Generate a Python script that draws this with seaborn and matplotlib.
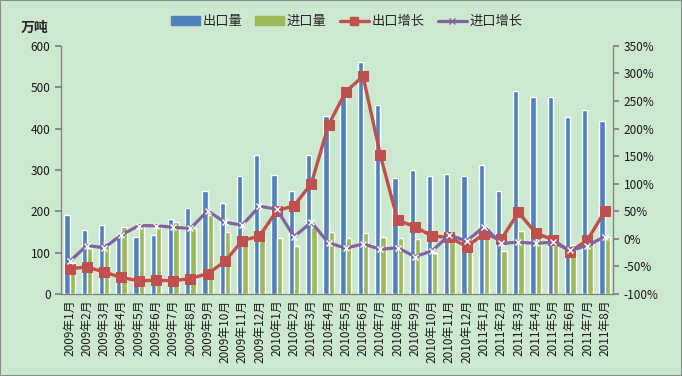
import numpy as np
import pandas as pd
import seaborn as sns
import matplotlib.pyplot as plt
from matplotlib.patches import Patch, Rectangle
from matplotlib.lines import Line2D

# months 2009-01 .. 2011-08
months = ['2009年%d月' % m for m in range(1, 13)] + \
         ['2010年%d月' % m for m in range(1, 13)] + \
         ['2011年%d月' % m for m in range(1, 9)]

# 出口量 / 进口量 (万吨)
export_vol = [191, 156, 167, 142, 137, 143, 182, 209, 248, 219, 286, 335,
              289, 250, 335, 431, 478, 562, 456, 281, 300, 286, 291, 286,
              313, 250, 491, 477, 477, 428, 445, 419]
import_vol = [75, 111, 126, 162, 165, 162, 175, 160, 192, 149, 128, 139,
              136, 115, 162, 151, 136, 147, 139, 136, 133, 100, 131, 139,
              160, 103, 153, 139, 123, 119, 119, 139]

# 增长 (%)
export_growth = [-54, -51, -60, -70, -76, -75, -76, -72, -63, -41, -3, 5,
                 51, 60, 100, 207, 267, 295, 152, 34, 22, 5, 3, -14,
                 9, -1, 48, 11, -2, -23, -2, 50]
import_growth = [-41, -12, -16, 7, 24, 24, 21, 19, 51, 30, 25, 59,
                 54, 4, 30, -7, -17, -9, -19, -16, -32, -22, 7, -4,
                 22, -8, -6, -8, -6, -21, -12, 4]

bg = '#cce8cf'
c_exp, c_imp = '#4f81bd', '#9bbb59'
c_eg, c_ig = '#c0504d', '#8064a2'

sns.set_theme(style='white')
plt.rcParams['font.family'] = ['Noto Sans CJK SC', 'DejaVu Sans']

df = pd.DataFrame({'month': months * 2,
                   'value': export_vol + import_vol,
                   'kind': ['出口量'] * len(months) + ['进口量'] * len(months)})

fig = plt.figure(figsize=(6.82, 3.76), dpi=100, facecolor=bg)
ax = fig.add_axes([0.0894, 0.218, 0.81, 0.66])
ax.set_facecolor(bg)

sns.barplot(data=df, x='month', y='value', hue='kind', order=months,
            palette=[c_exp, c_imp], width=0.62, saturation=1,
            legend=False, ax=ax)

ax2 = ax.twinx()
x = np.arange(len(months))
sns.lineplot(x=x, y=export_growth, color=c_eg, linewidth=2.4, marker='s',
             markersize=6.5, markeredgecolor=c_eg, ax=ax2)
sns.lineplot(x=x, y=import_growth, color=c_ig, linewidth=2.3, marker='x',
             markersize=5, markeredgewidth=1, ax=ax2)

ax.set_xlim(-0.5, len(months) - 0.5)
ax.set_ylim(0, 600)
ax.set_yticks(range(0, 601, 100))
ax2.set_ylim(-100, 350)
ax2.set_yticks(range(-100, 351, 50))
ax2.set_yticklabels(['%d%%' % v for v in range(-100, 351, 50)])

ax.set_xlabel('')
ax.set_ylabel('')
ax.set_xticks(x)
ax.set_xticklabels(months, rotation=90, fontsize=8.5, color='#1a1a1a')
ax.set_xticks(np.arange(-0.5, len(months)), minor=True)
ax.tick_params(axis='x', which='major', length=0, pad=4)
ax.tick_params(axis='x', which='minor', length=4, color='#808080', direction='out')
ax.tick_params(axis='y', length=4, color='#808080', direction='out', labelsize=8.5,
               labelcolor='#1a1a1a')
ax2.tick_params(axis='y', length=4, color='#808080', direction='out', labelsize=8.5,
                labelcolor='#1a1a1a')

for a in (ax, ax2):
    for s in a.spines.values():
        s.set_visible(False)
ax.spines['left'].set_visible(True)
ax.spines['bottom'].set_visible(True)
ax2.spines['right'].set_visible(True)
for s in (ax.spines['left'], ax.spines['bottom'], ax2.spines['right']):
    s.set_color('#808080')
    s.set_linewidth(0.9)

fig.text(0.03, 0.925, '万吨', fontsize=10, fontweight='bold', ha='left', va='center')

handles = [Patch(color=c_exp), Patch(color=c_imp),
           Line2D([], [], color=c_eg, lw=2.4, marker='s', markersize=5.5),
           Line2D([], [], color=c_ig, lw=2.3, marker='x', markersize=5)]
fig.legend(handles, ['出口量', '进口量', '出口增长', '进口增长'], loc='center',
           bbox_to_anchor=(0.508, 0.942), ncol=4, frameon=False, fontsize=9.5,
           handlelength=2.2, handleheight=0.7, handletextpad=0.2, columnspacing=1.0)

fig.patches.append(Rectangle((0, 0), 1, 1, transform=fig.transFigure,
                             fill=False, edgecolor='#8c8c8c', linewidth=1.5))

fig.savefig('out.png', dpi=100, facecolor=bg)
